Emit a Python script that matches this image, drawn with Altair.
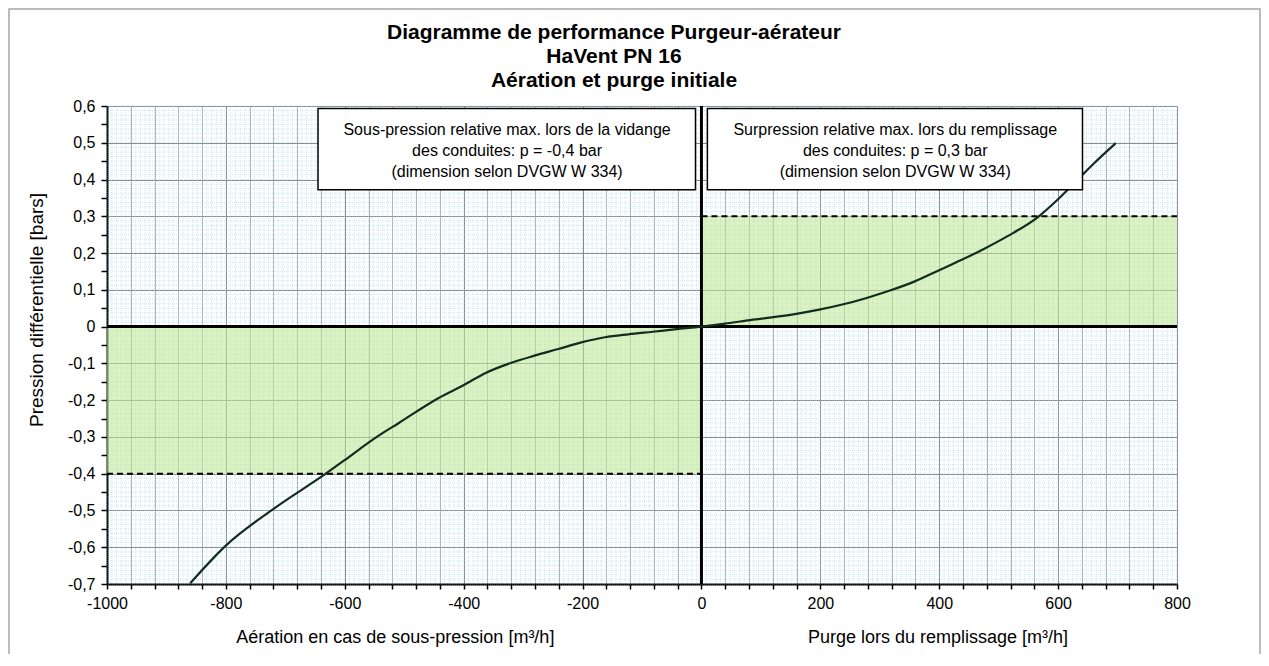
import altair as alt
import pandas as pd

# ---- data ----
flow = [-860, -801, -721, -632, -601, -548, -509, -442, -401, -363, -321, -281,
        -241, -202, -162, -123, -82, -42, 0, 40, 78, 118, 157, 198, 237, 278,
        317, 359, 398, 437, 476, 515, 566, 599, 627, 661, 697]
pressure = [-0.698, -0.597, -0.497, -0.400, -0.364, -0.302, -0.262, -0.194,
            -0.160, -0.126, -0.099, -0.079, -0.061, -0.043, -0.029, -0.021,
            -0.014, -0.007, 0.0, 0.008, 0.017, 0.025, 0.034, 0.046, 0.060,
            0.078, 0.098, 0.123, 0.152, 0.181, 0.212, 0.246, 0.298, 0.345,
            0.390, 0.445, 0.499]

zone_x = [0, -1000]
zone_x2 = [800, 0]
zone_lo = [0.0, -0.4]
zone_hi = [0.3, 0.0]

limit_p = [0.3, -0.4]
limit_x = [0, -1000]
limit_x2 = [800, 0]

box_x = [-645, 10]
box_x2 = [-10, 641]
box_lo = [0.372, 0.372]
box_hi = [0.593, 0.593]
box_cx = [-327, 326]
box_text = [
    "Sous-pression relative max. lors de la vidange\ndes conduites: p = -0,4 bar\n(dimension selon DVGW W 334)",
    "Surpression relative max. lors du remplissage\ndes conduites: p = 0,3 bar\n(dimension selon DVGW W 334)",
]

xtitle_text = ["Aération en cas de sous-pression [m³/h]", "Purge lors du remplissage [m³/h]"]
xtitle_pos = [-515, 398]

title_text = "Diagramme de performance Purgeur-aérateur\nHaVent PN 16\nAération et purge initiale"
ytitle = "Pression différentielle [bars]"

x_ticks = list(range(-1000, 801, 40))
y_ticks = [round(-0.7 + 0.05 * i, 2) for i in range(27)]
fine_x = list(range(-1000, 801, 8))
fine_y = [round(-0.7 + 0.0125 * i, 4) for i in range(105)]

FONT = "Liberation Sans"
W, H = 1070, 478

curve = pd.DataFrame({"q": flow, "p": pressure})
zones = pd.DataFrame({"x": zone_x, "x2": zone_x2, "y": zone_lo, "y2": zone_hi})
limits = pd.DataFrame({"x": limit_x, "x2": limit_x2, "y": limit_p})
boxes = pd.DataFrame({"x": box_x, "x2": box_x2, "y": box_lo, "y2": box_hi,
                      "cx": box_cx, "t": box_text})
xtitles = pd.DataFrame({"x": xtitle_pos, "t": xtitle_text})

xs = alt.Scale(domain=[-1000, 800], nice=False, zero=False)
ys = alt.Scale(domain=[-0.7, 0.6], nice=False, zero=False)

X_AX = alt.Axis(
    values=x_ticks, title=None, grid=True,
    gridColor={"condition": {"test": "datum.value % 200 === 0", "value": "#8a8a8a"}, "value": "#b4b4b4"},
    gridWidth=1,
    labelExpr="datum.value % 200 === 0 ? toString(datum.value) : ''",
    labelFont=FONT, labelFontSize=16, labelColor="black", labelPadding=6,
    labelOverlap=False, labelFlush=False,
    tickColor="black", tickSize=5, tickWidth=1.5,
    domainColor="black", domainWidth=2,
)
Y_AX = alt.Axis(
    values=y_ticks, title=None, grid=True,
    gridColor="#8a8a8a", gridWidth=1,
    gridOpacity={"condition": {"test": "round(datum.value * 20) % 2 === 0", "value": 1}, "value": 0},
    labelExpr="round(datum.value * 20) % 2 === 0 ? replace(toString(round(datum.value * 10) / 10), '.', ',') : ''",
    labelFont=FONT, labelFontSize=16, labelColor="black", labelPadding=6,
    labelOverlap=False, labelFlush=False,
    tickColor="black", tickSize=6, tickWidth=1.5,
    domainColor="black", domainWidth=2,
)

def X(f):
    return alt.X(f, type="quantitative", scale=xs, axis=X_AX)

def Y(f):
    return alt.Y(f, type="quantitative", scale=ys, axis=Y_AX)

fine_v = alt.Chart(pd.DataFrame({"v": fine_x})).mark_rule(
    color="#8fcdee", strokeWidth=1, strokeDash=[1, 1], opacity=0.45
).encode(x=X("v"))
fine_h = alt.Chart(pd.DataFrame({"v": fine_y})).mark_rule(
    color="#8fcdee", strokeWidth=1, strokeDash=[1, 1], opacity=0.45
).encode(y=Y("v"))

zone_layer = alt.Chart(zones).mark_rect(color="#bfe892", opacity=0.55).encode(
    x=X("x"), x2="x2", y=Y("y"), y2="y2"
)

limit_layer = alt.Chart(limits).mark_rule(color="black", strokeWidth=2, strokeDash=[6, 4]).encode(
    x=X("x"), x2="x2", y=Y("y")
)

zero_h = alt.Chart(pd.DataFrame({"v": [0.0]})).mark_rule(color="black", strokeWidth=3).encode(y=Y("v"))
zero_v = alt.Chart(pd.DataFrame({"v": [0]})).mark_rule(color="black", strokeWidth=3).encode(x=X("v"))

curve_layer = alt.Chart(curve).mark_line(color="#122c1e", strokeWidth=2.2, interpolate="monotone").encode(
    x=X("q"), y=Y("p")
)

box_layer = alt.Chart(boxes).mark_rect(fill="white", stroke="black", strokeWidth=1.5).encode(
    x=X("x"), x2="x2", y=Y("y"), y2="y2"
)
box_text_layer = alt.Chart(boxes).mark_text(
    font=FONT, fontSize=16, lineHeight=21, lineBreak="\n", align="center", baseline="top",
    color="black", dy=13
).encode(x=X("cx"), y=Y("y2"), text="t:N")

xtitle_layer = alt.Chart(xtitles).mark_text(
    font=FONT, fontSize=18, align="center", baseline="middle", color="black"
).encode(x=X("x"), y=alt.value(H + 54), text="t:N")

ytitle_layer = alt.Chart(pd.DataFrame({"t": [ytitle]})).mark_text(
    font=FONT, fontSize=19, angle=270, align="center", baseline="middle", color="black"
).encode(x=alt.value(-70), y=alt.value(204), text="t:N")

title_layer = alt.Chart(pd.DataFrame({"t": [title_text]})).mark_text(
    font=FONT, fontSize=21, fontWeight="bold", lineHeight=24, lineBreak="\n",
    align="center", baseline="alphabetic", color="black"
).encode(x=alt.value(507), y=alt.value(-67), text="t:N")

frame_layer = alt.Chart(pd.DataFrame({"a": [0]})).mark_rect(
    filled=False, stroke="#a6a6a6", strokeWidth=1.5
).encode(x=alt.value(-98), x2=alt.value(W + 83), y=alt.value(-97), y2=alt.value(H + 120))

chart = alt.layer(
    fine_v, fine_h, zone_layer, limit_layer, zero_h, zero_v, curve_layer,
    box_layer, box_text_layer, xtitle_layer, ytitle_layer, title_layer, frame_layer,
).properties(
    width=W, height=H,
    padding={"left": 99, "top": 98, "right": 84, "bottom": 70},
    autosize=alt.AutoSizeParams(type="none"),
).configure_view(
    fill="#f1f8fc", stroke=None
).configure(background="white")

chart.save("out.html", embed_options={"renderer": "svg", "actions": False})
